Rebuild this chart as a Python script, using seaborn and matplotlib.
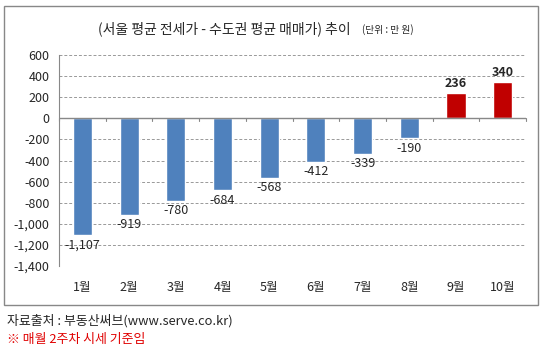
import numpy as np
import pandas as pd
import matplotlib
matplotlib.use("Agg")
import matplotlib.pyplot as plt
from matplotlib.patches import Rectangle
import seaborn as sns

sns.set_style("white")
plt.rcParams['font.family'] = ['Noto Sans CJK KR', 'DejaVu Sans']

# Data
months = ["1월", "2월", "3월", "4월", "5월", "6월", "7월", "8월", "9월", "10월"]
values = [-1107, -919, -780, -684, -568, -412, -339, -190, 236, 340]
colors = ["#4F81BD" if v < 0 else "#C00000" for v in values]

df = pd.DataFrame({"month": months, "value": values})

fig = plt.figure(figsize=(5.47, 3.51), dpi=100)
ax = fig.add_axes([0.108, 0.2422, 0.8537, 0.601])

sns.barplot(data=df, x="month", y="value", hue="month", palette=colors,
            width=0.41, legend=False, ax=ax, saturation=1)

ax.set_ylim(-1400, 600)
ax.set_xlim(-0.5, len(months) - 0.5)
yticks = np.arange(-1400, 601, 200)
ax.set_yticks(yticks)
ax.set_yticklabels([f"{t:,}" for t in yticks], fontsize=9)
ax.yaxis.grid(True, linestyle=(0, (3, 2)), color="#999999", linewidth=0.7)
ax.set_axisbelow(True)
for s in ["top", "right", "bottom"]:
    ax.spines[s].set_visible(False)
ax.spines["left"].set_color("#888888")
ax.tick_params(axis="y", length=4, color="#888888", pad=3)
ax.set_xlabel("")
ax.set_ylabel("")
ax.set_xticks([])

# zero line with category separators
ax.axhline(0, color="#888888", linewidth=1)
for b in np.arange(-0.5, len(months), 1.0):
    ax.plot([b, b], [0, -28], color="#888888", linewidth=0.8, clip_on=False)

# category labels below plot
for i, m in enumerate(months):
    ax.text(i, -1540, m, ha="center", va="top", fontsize=9)

# value labels
for i, v in enumerate(values):
    if v < 0:
        ax.text(i, v - 30, f"{v:,}", ha="center", va="top", fontsize=9)
    else:
        ax.text(i, v + 30, f"{v:,}", ha="center", va="bottom", fontsize=9,
                fontweight="bold")

# title
fig.text(0.41, 0.918, "(서울 평균 전세가 - 수도권 평균 매매가) 추이", ha="center",
         va="center", fontsize=10)
fig.text(0.662, 0.915, "(단위 : 만 원)", ha="left", va="center", fontsize=7)

# chart border
fig.add_artist(Rectangle((0.0073, 0.131), 0.976, 0.852, transform=fig.transFigure,
                         fill=False, edgecolor="#888888", linewidth=1))

# footnotes
fig.text(0.012, 0.086, "자료출처 : 부동산써브(www.serve.co.kr)", ha="left",
         va="center", fontsize=9.3)
fig.text(0.012, 0.034, "※ 매월 2주차 시세 기준임", ha="left", va="center",
         fontsize=9.3, color="#E00000")

fig.savefig("out.png", dpi=100)
